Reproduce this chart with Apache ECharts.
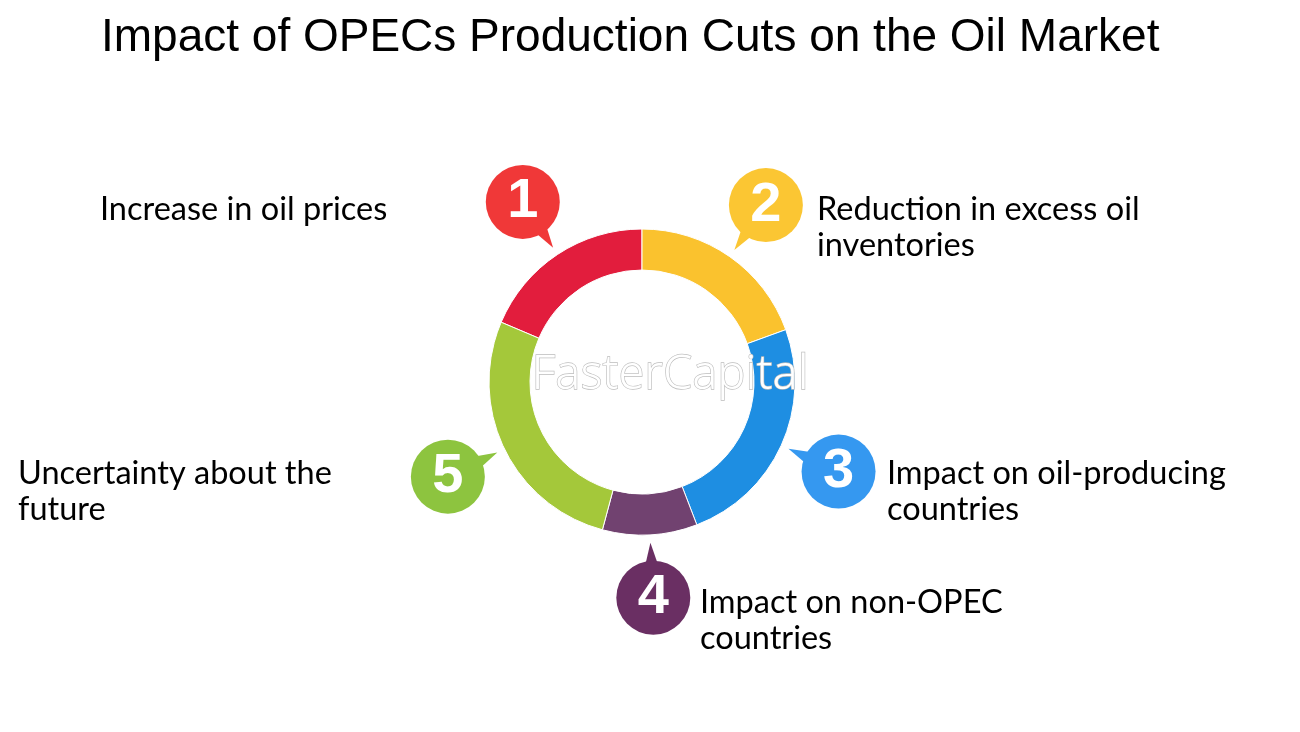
<!DOCTYPE html>
<html><head><meta charset="utf-8">
<script src="https://cdn.jsdelivr.net/npm/echarts@6/dist/echarts.min.js"></script>
<style>html,body{margin:0;padding:0;background:#fff}#c{width:1300px;height:732px}</style>
</head><body><div id="c"></div>
<script>
// ---- data ----
const titleText = 'Impact of OPECs Production Cuts on the Oil Market';
const categories = ['Increase in oil prices', 'Reduction in excess oil inventories', 'Impact on oil-producing countries', 'Impact on non-OPEC countries', 'Uncertainty about the future'];
const labelLines = ['Increase in oil prices', 'Reduction in excess oil\ninventories', 'Impact on oil-producing\ncountries', 'Impact on non-OPEC\ncountries', 'Uncertainty about the\nfuture'];
const numbers = ['1', '2', '3', '4', '5'];
const shares = [67, 70, 89, 36, 98];
const ringColors = ['#E21D3D', '#FAC22E', '#1E8EE2', '#714270', '#A4C83A'];
const bubbleColors = ['#F03838', '#FBC633', '#3598F0', '#6A2F63', '#8DC43F'];

// ---- layout (not data) ----
const CX = 642, CY = 382;
const labelPos = [[100, 192], [817, 192], [887, 456], [700, 585], [18, 456]];

const total = shares.reduce((a, b) => a + b, 0);
const degs = shares.map(v => v / total * 360);
const mids = [];
let acc = -degs[0];
degs.forEach((d, i) => { let m = acc + d / 2; mids.push((m + 360) % 360); acc += d; });

const chart = echarts.init(document.getElementById('c'), null, { renderer: 'canvas' });
const graphics = [{
  type: 'text', x: 101, y: 38, z: 10,
  style: { text: titleText, font: '46px "Liberation Sans", Arial', fill: '#000', textVerticalAlign: 'middle' }
}, {
  type: 'text', x: 670, y: 376, z: 10,
  style: { text: 'FasterCapital', font: '300 47px "Noto Sans", sans-serif', fill: '#ffffff', stroke: '#bdbdbd', lineWidth: 1.3, textAlign: 'center', textVerticalAlign: 'middle' }
}];
labelLines.forEach((t, i) => {
  graphics.push({
    type: 'text', x: labelPos[i][0], y: labelPos[i][1], z: 10,
    style: { text: t, font: '32.5px Lato, "Open Sans", sans-serif', fill: '#000', lineHeight: 36, textVerticalAlign: 'top' }
  });
});

chart.setOption({
  backgroundColor: '#ffffff',
  animation: false,
  polar: { center: [CX, CY], radius: 260 },
  angleAxis: { type: 'value', min: 0, max: 360, startAngle: 90, clockwise: true, show: false },
  radiusAxis: { type: 'value', min: 0, max: 260, show: false },
  graphic: graphics,
  series: [{
    type: 'pie',
    center: [CX, CY],
    radius: [112, 153],
    startAngle: 90 + degs[0],
    clockwise: true,
    silent: true,
    label: { show: false },
    labelLine: { show: false },
    itemStyle: { borderColor: '#ffffff', borderWidth: 1 },
    data: categories.map((c, i) => ({ name: c, value: shares[i], itemStyle: { color: ringColors[i] } }))
  }, {
    type: 'scatter',
    coordinateSystem: 'polar',
    silent: true,
    z: 3,
    data: mids.map((m, i) => ({
      value: [174, m],
      symbol: 'triangle',
      symbolSize: [15, 26],
      symbolRotate: -(m + 180),
      itemStyle: { color: bubbleColors[i], opacity: 1 }
    }))
  }, {
    type: 'scatter',
    coordinateSystem: 'polar',
    silent: true,
    z: 4,
    symbol: 'circle',
    symbolSize: 74,
    itemStyle: { opacity: 1 },
    data: mids.map((m, i) => ({ value: [216, m], name: numbers[i], itemStyle: { color: bubbleColors[i], opacity: 1 } })),
    label: {
      show: true, position: 'inside', formatter: p => p.name,
      color: '#fff', fontSize: 56, fontWeight: 'bold', fontFamily: '"Liberation Sans", Arial'
    }
  }]
});
</script></body></html>
